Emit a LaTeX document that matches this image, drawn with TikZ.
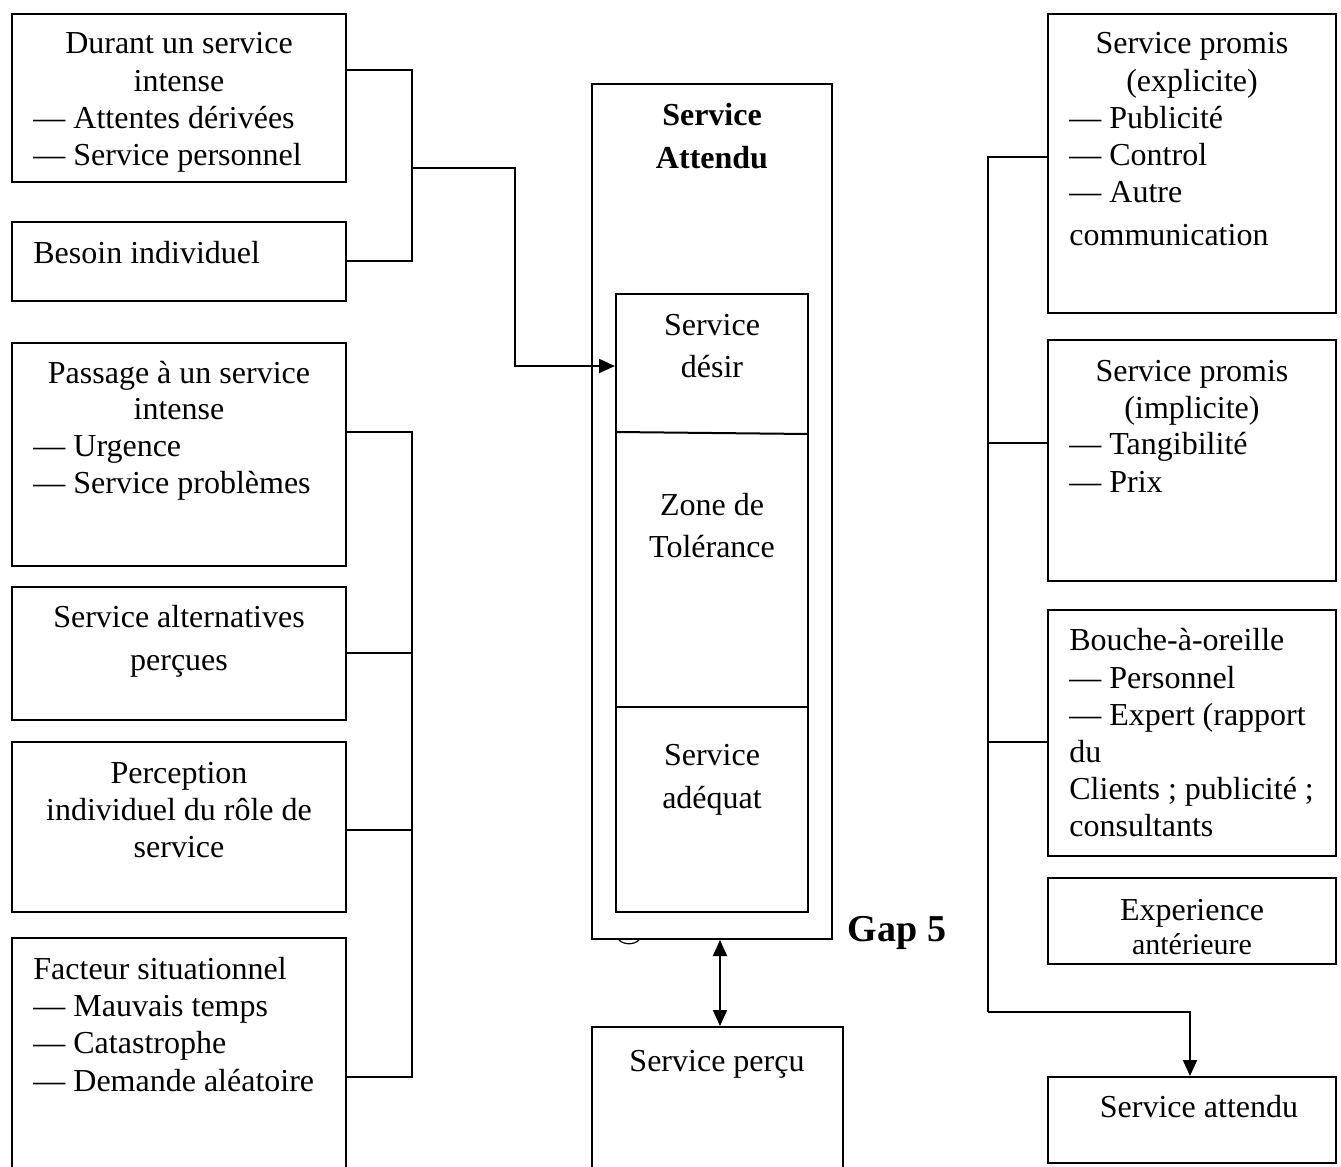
\documentclass[tikz,border=0pt]{standalone}
\usepackage{fontspec}
\setmainfont{Liberation Serif}
\usetikzlibrary{arrows.meta}
\begin{document}
\begin{tikzpicture}[x=0.5pt,y=-0.5pt,
  box/.style={draw, line width=1pt},
  wire/.style={line width=1pt},
  tip/.style={-{Triangle[length=8pt,width=7pt]}},
  tt/.style={inner sep=0pt, font=\fontsize{16}{18.5}\selectfont},
  lt/.style={tt, anchor=base west},
  ct/.style={tt, anchor=base},
  bt/.style={ct, font=\fontsize{16}{18.5}\selectfont\bfseries}]
\useasboundingbox (0,0) rectangle (1341,1167);

% ---- left column ----
\draw[box] (12,14) rectangle (346,182);
\draw[box] (12,222) rectangle (346,301);
\draw[box] (12,343) rectangle (346,566);
\draw[box] (12,587) rectangle (346,720);
\draw[box] (12,742) rectangle (346,912);
\draw[box] (346,1167) -- (346,938) -- (12,938) -- (12,1167);

\node[ct] (d1) at (179,54) {Durant un service};
\node[ct] (d2) at (179,91) {intense};
\node[lt] (d3) at (33,128) {— Attentes dérivées};
\node[lt] (d4) at (33,165) {— Service personnel};

\node[lt] (b1) at (33,263) {Besoin individuel};

\node[ct] (p1) at (179,383) {Passage à un service};
\node[ct] (p2) at (179,419) {intense};
\node[lt] (p3) at (33,456) {— Urgence};
\node[lt] (p4) at (33,493) {— Service problèmes};

\node[ct] (a1) at (179,627) {Service alternatives};
\node[ct] (a2) at (179,670) {perçues};

\node[ct] (r1) at (179,783) {Perception};
\node[ct] (r2) at (179,820) {individuel du rôle de};
\node[ct] (r3) at (179,857) {service};

\node[lt] (f1) at (33,979) {Facteur situationnel};
\node[lt] (f2) at (33,1016) {— Mauvais temps};
\node[lt] (f3) at (33,1053) {— Catastrophe};
\node[lt] (f4) at (33,1091) {— Demande aléatoire};

% ---- centre ----
\draw[box] (592,84) rectangle (832,939);
\draw[box] (616,294) rectangle (808,912);
\draw[wire] (616,432) -- (808,434);
\draw[wire] (616,707) -- (808,707);
\draw[line width=0.6pt] (619,940) .. controls (624,945) and (634,945) .. (639,940);

\node[bt] (s1) at (712,125) {Service};
\node[bt] (s2) at (712,168) {Attendu};
\node[ct] (z1) at (712,335) {Service};
\node[ct] (z2) at (712,377) {désir};
\node[ct] (z3) at (712,515) {Zone de};
\node[ct] (z4) at (712,557) {Tolérance};
\node[ct] (z5) at (712,765) {Service};
\node[ct] (z6) at (712,808) {adéquat};

\node[tt, font=\fontsize{19}{22}\selectfont\bfseries] (gap) at (897,933) {Gap 5};

\draw[box] (592,1167) -- (592,1027) -- (843,1027) -- (843,1167);
\node[ct] (sp) at (717,1071) {Service perçu};

% ---- right column ----
\draw[box] (1048,14) rectangle (1336,313);
\draw[box] (1048,340) rectangle (1336,581);
\draw[box] (1048,610) rectangle (1336,856);
\draw[box] (1048,878) rectangle (1336,964);
\draw[box] (1048,1077) rectangle (1336,1163);

\node[ct] (e1) at (1192,54) {Service promis};
\node[ct] (e2) at (1192,91) {(explicite)};
\node[lt] (e3) at (1069,128) {— Publicité};
\node[lt] (e4) at (1069,165) {— Control};
\node[lt] (e5) at (1069,202) {— Autre};
\node[lt] (e6) at (1069,245) {communication};

\node[ct] (i1) at (1192,381) {Service promis};
\node[ct] (i2) at (1192,418) {(implicite)};
\node[lt] (i3) at (1069,454) {— Tangibilité};
\node[lt] (i4) at (1069,492) {— Prix};

\node[lt] (o1) at (1069,650) {Bouche-à-oreille};
\node[lt] (o2) at (1069,688) {— Personnel};
\node[lt] (o3) at (1069,725) {— Expert (rapport};
\node[lt] (o4) at (1069,762) {du};
\node[lt] (o5) at (1069,799) {Clients ; publicité ;};
\node[lt] (o6) at (1069,836) {consultants};

\node[ct] (x1) at (1192,920) {Experience};
\node[ct, font=\fontsize{15}{17}\selectfont] (x2) at (1192,954) {antérieure};

\node[ct] (sa) at (1199,1117) {Service attendu};

% ---- connectors ----
\draw[wire] (346,70) -- (412,70) -- (412,261) -- (346,261);
\draw[wire, tip] (412,168) -- (515,168) -- (515,366) -- (615,366);

\draw[wire] (346,432) -- (412,432) -- (412,1077) -- (346,1077);
\draw[wire] (346,653) -- (412,653);
\draw[wire] (346,830) -- (412,830);

\draw[wire, {Triangle[length=8pt,width=7pt]}-{Triangle[length=8pt,width=7pt]}] (720,940) -- (720,1026);

\draw[wire] (1048,157) -- (988,157) -- (988,1012);
\draw[wire] (988,443) -- (1048,443);
\draw[wire] (988,742) -- (1048,742);
\draw[wire, tip] (988,1012) -- (1190,1012) -- (1190,1076);
\end{tikzpicture}
\end{document}
